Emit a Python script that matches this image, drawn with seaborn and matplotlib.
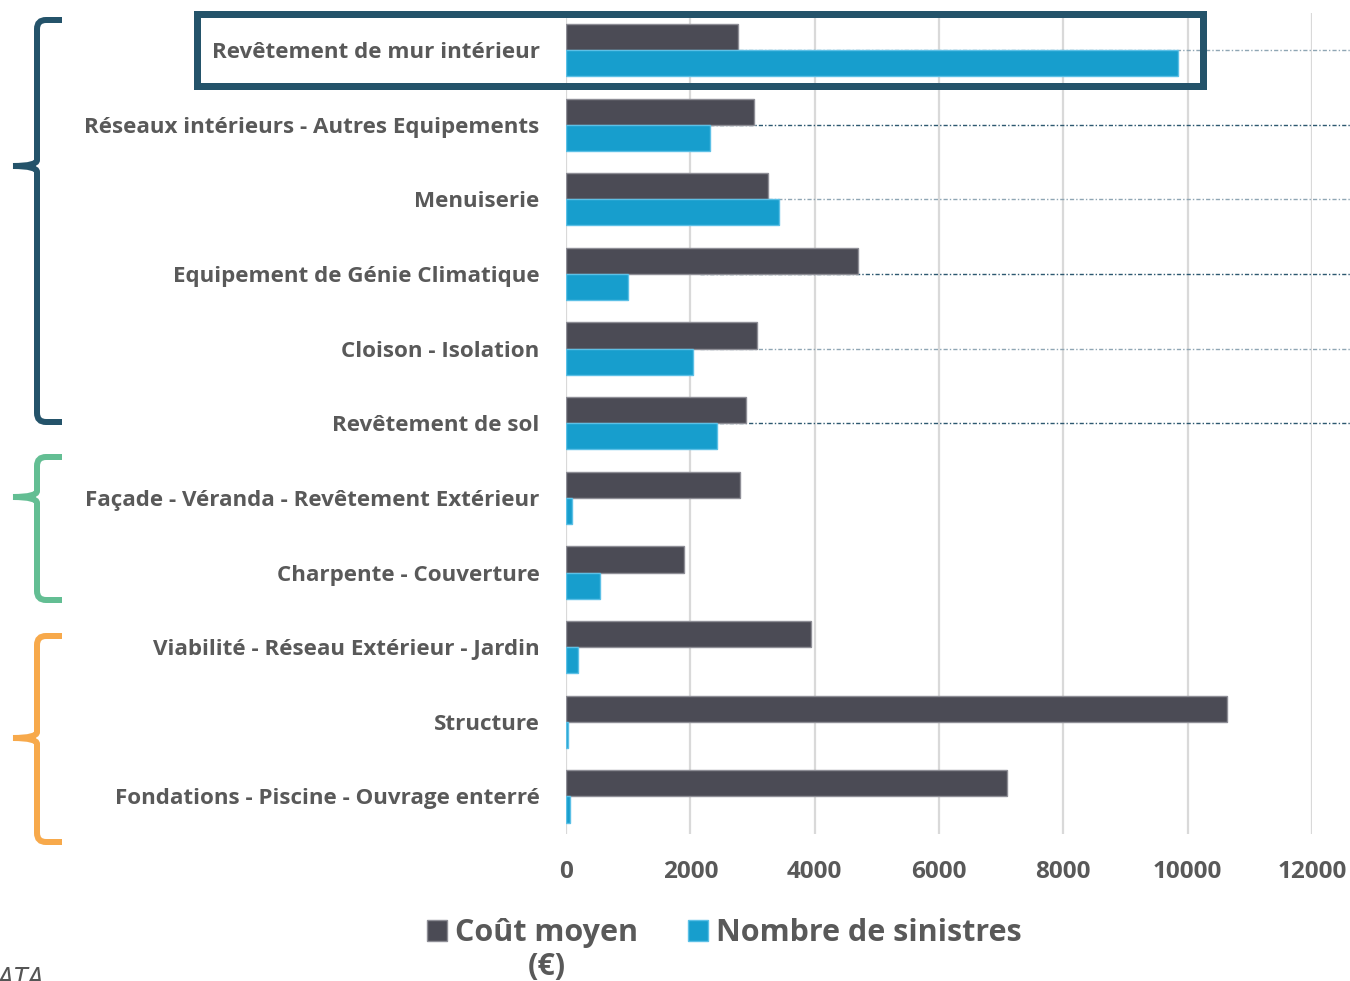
import matplotlib
matplotlib.use("Agg")
import matplotlib.pyplot as plt
from matplotlib.patches import Rectangle, PathPatch
from matplotlib.path import Path
from matplotlib.transforms import Affine2D
import seaborn as sns
import pandas as pd

# ---- data ---------------------------------------------------------------
categories = [
    "Revêtement de mur intérieur",
    "Réseaux intérieurs - Autres Equipements",
    "Menuiserie",
    "Equipement de Génie Climatique",
    "Cloison - Isolation",
    "Revêtement de sol",
    "Façade - Véranda - Revêtement Extérieur",
    "Charpente - Couverture",
    "Viabilité - Réseau Extérieur - Jardin",
    "Structure",
    "Fondations - Piscine - Ouvrage enterré",
]
cout_moyen = [2770, 3025, 3250, 4700, 3065, 2900, 2805, 1895, 3945, 10625, 7090]
nombre_sinistres = [9845, 2315, 3425, 995, 2050, 2425, 95, 540, 185, 40, 60]
series_names = ["Coût moyen", "Nombre de sinistres"]
cost_unit = "(€)"
x_ticks = [0, 2000, 4000, 6000, 8000, 10000, 12000]

# ---- style --------------------------------------------------------------
W, H = 1350, 981
DARK = "#4b4b55"
BLUE = "#179ecd"
TEXT = "#595959"
TEAL = "#24536a"
GREEN = "#63be93"
ORANGE = "#f7a94b"

sns.set_theme(style="white")
plt.rcParams["font.family"] = ["Open Sans", "DejaVu Sans"]

n = len(categories)
df = pd.DataFrame({
    "categorie": categories * 2,
    "valeur": cout_moyen + nombre_sinistres,
    "serie": [series_names[0]] * n + [series_names[1]] * n,
})

fig = plt.figure(figsize=(W / 100, H / 100), dpi=100)
top_px, bot_px = 12.7, 833.8
ax = fig.add_axes([566 / W, 1 - bot_px / H, (1312 - 566) / W, (bot_px - top_px) / H])

sns.barplot(data=df, y="categorie", x="valeur", hue="serie",
            order=categories, hue_order=series_names,
            palette=[DARK, BLUE], width=0.7, orient="h", ax=ax,
            saturation=1, linewidth=1)

# lighter outline around each bar
for p in ax.patches:
    fc = p.get_facecolor()
    if abs(fc[0] - 0x4b / 255) < 0.02:
        p.set_edgecolor("#8e8e96")
    else:
        p.set_edgecolor("#5cc0e6")

handles, labels = ax.get_legend_handles_labels()
if ax.get_legend() is not None:
    ax.get_legend().remove()

ax.set_xlabel("")
ax.set_ylabel("")
ax.xaxis.grid(True, color="#d9d9d9", linewidth=1.6)
ax.yaxis.grid(False)
ax.set_axisbelow(True)
for s in ax.spines.values():
    s.set_visible(False)

# dotted leader lines for the interior group
px_per_unit = (1312 - 566) / 12000
x_start = (700 - 566) / px_per_unit
x_end = (1350 - 566) / px_per_unit
for i in range(6):
    col = "#8fa6b4" if i % 2 == 0 else "#2d5870"
    ax.plot([x_start, x_end], [i, i], linestyle=(0, (3, 1.5, 1, 1.5)),
            color=col, linewidth=1.0, clip_on=False, zorder=0.8)

ax.set_xlim(0, 12000)
ax.set_ylim(n - 0.5, -0.5)
ax.set_xticks(x_ticks)
ax.set_xticklabels([str(t) for t in x_ticks])
ax.tick_params(axis="x", length=0, pad=19, labelsize=17.5, labelcolor=TEXT)
ax.tick_params(axis="y", length=0, pad=19, labelsize=16.1, labelcolor=TEXT)
for lab in ax.get_xticklabels() + ax.get_yticklabels():
    lab.set_fontweight("bold")

# pixel-based transform for annotations
px = Affine2D().scale(1 / W, -1 / H).translate(0, 1) + fig.transFigure

# highlight frame around the first row
fig.patches.append(Rectangle((196.5, 13.5), 1006, 72, fill=False,
                             edgecolor=TEAL, linewidth=7 * 0.72,
                             joinstyle="miter", transform=px))


def brace(y_top, y_tip, y_bot, color, x_arm=62, x_line=37, x_tip=13, r=9):
    verts = [
        (x_arm, y_top), (x_line + r, y_top),
        (x_line, y_top), (x_line, y_top + r),
        (x_line, y_tip - 6),
        (x_line, y_tip), (x_tip, y_tip),
        (x_tip, y_tip),
        (x_line, y_tip), (x_line, y_tip + 6),
        (x_line, y_bot - r),
        (x_line, y_bot), (x_line + r, y_bot),
        (x_arm, y_bot),
    ]
    codes = [
        Path.MOVETO, Path.LINETO,
        Path.CURVE3, Path.CURVE3,
        Path.LINETO,
        Path.CURVE3, Path.CURVE3,
        Path.MOVETO,
        Path.CURVE3, Path.CURVE3,
        Path.LINETO,
        Path.CURVE3, Path.CURVE3,
        Path.LINETO,
    ]
    fig.patches.append(PathPatch(Path(verts, codes), fill=False,
                                 edgecolor=color, linewidth=6 * 0.72,
                                 capstyle="butt", transform=px))


brace(20, 166, 422, TEAL)
brace(457, 497, 600, GREEN)
brace(636, 738, 842, ORANGE)

# legend
fs = 22
fpx = fs * 100 / 72
leg = fig.legend(handles, labels, loc="upper center",
                 bbox_to_anchor=(724.5 / W, 1 - 918 / H), ncol=2,
                 frameon=False, borderaxespad=0, borderpad=0,
                 prop={"size": fs, "weight": "bold"},
                 handlelength=20 / fpx, handleheight=20 / fpx,
                 handletextpad=8 / fpx, columnspacing=50 / fpx)
for t in leg.get_texts():
    t.set_color(TEXT)

# unit line centred under the first legend entry
fig.canvas.draw()
bb = leg.get_texts()[0].get_window_extent()
fig.text((bb.x0 + bb.x1) / 2 / W, (bb.y0 - 34) / H, cost_unit,
         fontsize=fs, fontweight="bold", color=TEXT, ha="center", va="bottom")

fig.text(-3 / W, 1 - 988 / H, "ATA", fontsize=21, style="italic",
         color="#555555", ha="left", va="baseline")

fig.savefig("out.png", dpi=100)
